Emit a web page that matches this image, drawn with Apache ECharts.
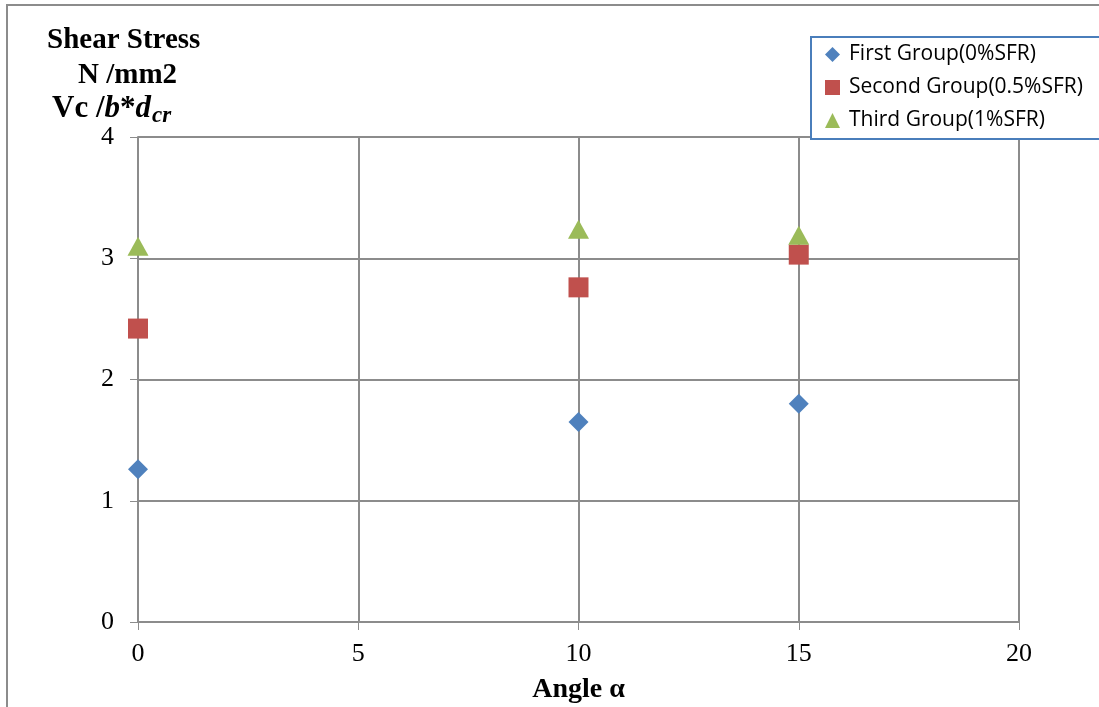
<!DOCTYPE html>
<html>
<head>
<meta charset="utf-8">
<script src="https://cdn.jsdelivr.net/npm/echarts@6/dist/echarts.min.js"></script>
<style>
  html, body { margin: 0; padding: 0; background: #fff; }
  #chart { width: 1099px; height: 707px; }
</style>
</head>
<body>
<div id="chart"></div>
<script>
// Shear stress against inclination angle for three fibre contents
const angles = [0, 10, 15];
const firstGroup = [1.26, 1.65, 1.80];
const secondGroup = [2.42, 2.76, 3.03];
const thirdGroup = [3.10, 3.24, 3.19];
const seriesNames = ['First Group(0%SFR)', 'Second Group(0.5%SFR)', 'Third Group(1%SFR)'];
const xTicks = [0, 5, 10, 15, 20];
const yTicks = [0, 1, 2, 3, 4];

const serif = '"Liberation Serif", "Times New Roman", serif';
const sans = '"Open Sans", "Liberation Sans", sans-serif';
const gridGray = '#8c8c8c';

const pairs = (ys) => angles.map((x, i) => [x, ys[i]]);

const chart = echarts.init(document.getElementById('chart'), null, { renderer: 'canvas' });

chart.setOption({
  backgroundColor: '#ffffff',
  animation: false,
  grid: { left: 138, top: 137, right: 80, bottom: 85, containLabel: false, outerBoundsMode: 'none' },
  xAxis: {
    type: 'value',
    min: xTicks[0], max: xTicks[xTicks.length - 1], interval: 5,
    axisLine: { show: true, onZero: false, lineStyle: { color: gridGray, width: 2 } },
    axisTick: { show: true, inside: false, length: 8, lineStyle: { color: gridGray, width: 1 } },
    axisLabel: { color: '#000', fontFamily: serif, fontSize: 26, margin: 19 },
    splitLine: { show: true, lineStyle: { color: gridGray, width: 2 } },
    name: 'Angle α',
    nameLocation: 'middle',
    nameGap: 54,
    nameTextStyle: { color: '#000', fontFamily: serif, fontSize: 28, fontWeight: 'bold' }
  },
  yAxis: {
    type: 'value',
    min: yTicks[0], max: yTicks[yTicks.length - 1], interval: 1,
    axisLine: { show: true, onZero: false, lineStyle: { color: gridGray, width: 2 } },
    axisTick: { show: true, inside: false, length: 8, lineStyle: { color: gridGray, width: 1 } },
    axisLabel: { color: '#000', fontFamily: serif, fontSize: 26, margin: 24 },
    splitLine: { show: true, lineStyle: { color: gridGray, width: 2 } }
  },
  legend: {
    orient: 'vertical',
    left: 811, top: 37,
    itemWidth: 15, itemHeight: 15,
    itemGap: 12,
    padding: [7, 40, 8, 14],
    borderColor: '#4a7ebb', borderWidth: 2,
    backgroundColor: '#fff',
    textStyle: { color: '#000', fontFamily: sans, fontSize: 21, padding: [0, 0, 0, 4] },
    data: seriesNames
  },
  graphic: [
    { type: 'polyline', silent: true, z: 100,
      shape: { points: [[7, 707], [7, 5], [1099, 5]] },
      style: { stroke: '#8c8c8c', lineWidth: 2, fill: null } },
    { type: 'text', left: 47, top: 26, z: 100,
      style: { text: 'Shear Stress', fill: '#000', font: 'bold 29px ' + serif } },
    { type: 'text', left: 78, top: 61, z: 100,
      style: { text: 'N /mm2', fill: '#000', font: 'bold 29px ' + serif } },
    { type: 'text', left: 52, top: 93, z: 100,
      style: {
        text: '{n|Vc /}{i|b}{n|*}{i|d}{s|cr}',
        rich: {
          n: { fill: '#000', fontFamily: serif, fontSize: 31, fontWeight: 'bold' },
          i: { fill: '#000', fontFamily: serif, fontSize: 31, fontWeight: 'bold', fontStyle: 'italic' },
          s: { fill: '#000', fontFamily: serif, fontSize: 23, fontWeight: 'bold', fontStyle: 'italic', padding: [16, 0, 0, 1] }
        }
      } }
  ],
  series: [
    { name: seriesNames[0], type: 'scatter', symbol: 'diamond', symbolSize: 20,
      itemStyle: { color: '#4f81bd', opacity: 1 }, data: pairs(firstGroup), z: 3 },
    { name: seriesNames[1], type: 'scatter', symbol: 'rect', symbolSize: 20,
      itemStyle: { color: '#c0504d', opacity: 1 }, data: pairs(secondGroup), z: 3 },
    { name: seriesNames[2], type: 'scatter', symbol: 'triangle', symbolSize: [21, 19],
      itemStyle: { color: '#9bbb59', opacity: 1 }, data: pairs(thirdGroup), z: 4 }
  ]
});
</script>
</body>
</html>
